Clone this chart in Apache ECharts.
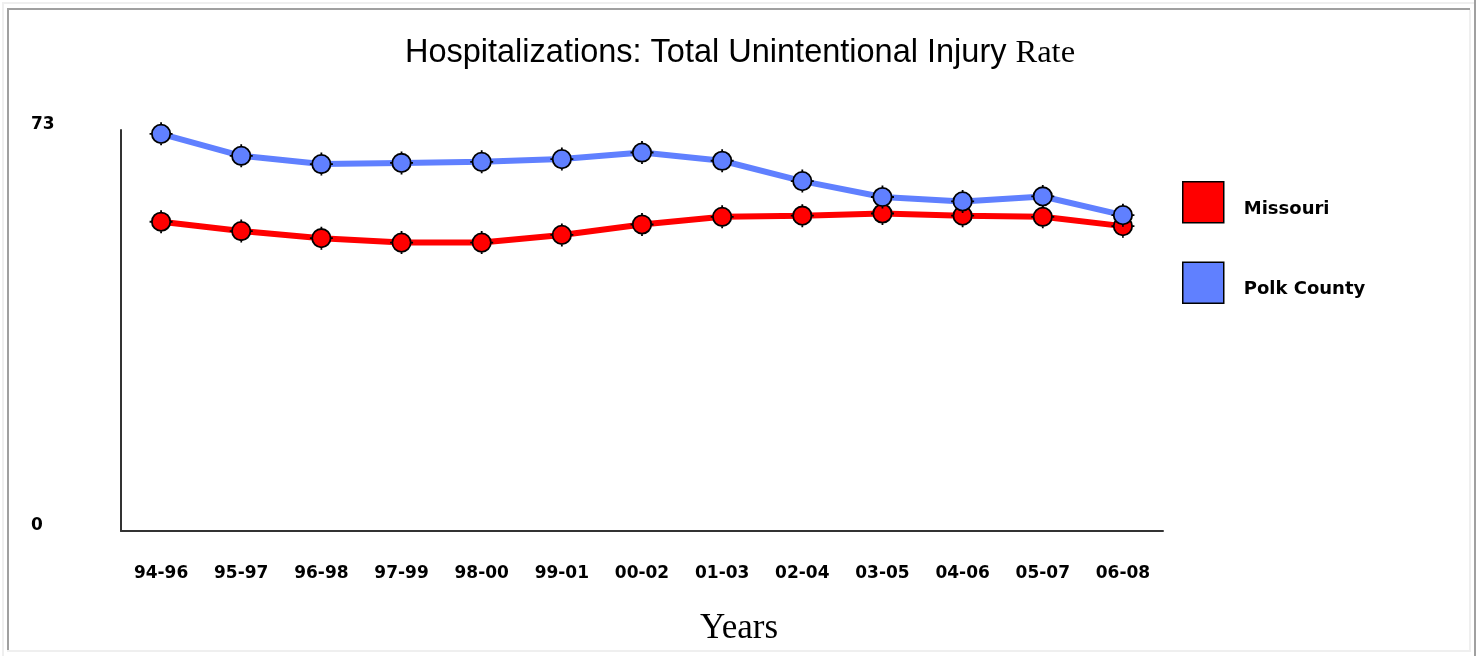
<!DOCTYPE html>
<html>
<head>
<meta charset="utf-8">
<script src="https://cdn.jsdelivr.net/npm/echarts@6/dist/echarts.min.js"></script>
<style>
html,body{margin:0;padding:0;background:#fff;}
#chart{width:1481px;height:656px;}
</style>
</head>
<body>
<div id="chart"></div>
<script>
const categories = ['94-96','95-97','96-98','97-99','98-00','99-01','00-02','01-03','02-04','03-05','04-06','05-07','06-08'];
const missouri = [56.3, 54.6, 53.3, 52.5, 52.5, 53.9, 55.8, 57.2, 57.4, 57.8, 57.4, 57.2, 55.5];
const polkCounty = [72.3, 68.3, 66.8, 67.0, 67.2, 67.7, 68.9, 67.4, 63.7, 60.8, 60.0, 60.9, 57.5];
const yTicks = [0, 73];

const markerPath = 'path://M10 0 L10 2.5 M10 17.5 L10 20 M0 10 L2.5 10 M17.5 10 L20 10 M10 2 A8 8 0 1 1 9.99 2 Z';
const labelFont = '"DejaVu Sans", sans-serif';

const chart = echarts.init(document.getElementById('chart'), null, {renderer: 'canvas'});

function seriesOf(name, data, color) {
  return {
    name: name,
    type: 'line',
    data: data,
    symbol: markerPath,
    symbolSize: 23,
    showAllSymbol: true,
    lineStyle: {color: color, width: 6},
    itemStyle: {color: color, borderColor: '#000', borderWidth: 1.8},
    emphasis: {disabled: true},
    animation: false
  };
}

chart.setOption({
  animation: false,
  backgroundColor: '#fff',
  title: [
    {
      text: '{a|Hospitalizations: Total Unintentional Injury }{b|Rate}',
      left: 735,
      textAlign: 'center',
      top: 32,
      textStyle: {
        fontWeight: 'normal',
        rich: {
          a: {fontFamily: '"Liberation Sans", Arial, sans-serif', fontSize: 32.5, fontWeight: 'normal', color: '#000'},
          b: {fontFamily: '"Liberation Serif", serif', fontSize: 32.5, fontWeight: 'normal', color: '#000'}
        }
      }
    },
    {
      text: 'Years',
      left: 734,
      textAlign: 'center',
      top: 606,
      textStyle: {fontFamily: '"Liberation Serif", serif', fontSize: 35, fontWeight: 'normal', color: '#000'}
    }
  ],
  legend: {
    orient: 'vertical',
    left: 1177,
    top: 176,
    itemWidth: 41,
    itemHeight: 41,
    itemGap: 38,
    icon: 'rect',
    itemStyle: {borderColor: '#000', borderWidth: 1.5},
    formatter: '{t|{name}}',
    textStyle: {
      fontFamily: labelFont, fontWeight: 'bold', fontSize: 18, color: '#000', padding: [0, 0, 0, 15],
      rich: {t: {fontFamily: labelFont, fontWeight: 'bold', fontSize: 18, color: '#000', padding: [14, 0, 0, 0]}}
    },
    data: ['Missouri', 'Polk County'],
    selectedMode: false
  },
  grid: {left: 121, right: 318, top: 130, bottom: 125},
  xAxis: {
    type: 'category',
    data: categories,
    boundaryGap: true,
    axisLine: {lineStyle: {color: '#333', width: 2}},
    axisTick: {show: false},
    axisLabel: {fontFamily: labelFont, fontWeight: 'bold', fontSize: 17, color: '#000', margin: 34, interval: 0}
  },
  yAxis: {
    type: 'value',
    min: yTicks[0],
    max: yTicks[1],
    interval: yTicks[1] - yTicks[0],
    splitLine: {show: false},
    axisTick: {show: false},
    axisLine: {show: true, lineStyle: {color: '#333', width: 2}},
    axisLabel: {
      align: 'left', margin: 90, verticalAlign: 'middle',
      formatter: '{v|{value}}',
      rich: {v: {fontFamily: labelFont, fontWeight: 'bold', fontSize: 17, color: '#000', padding: [0, 0, 11, 0]}}
    }
  },
  series: [
    seriesOf('Missouri', missouri, '#ff0000'),
    seriesOf('Polk County', polkCounty, '#6080ff')
  ],
  graphic: [
    {type: 'rect', shape: {x: 2, y: 2, width: 1472, height: 2}, style: {fill: '#efefef'}, silent: true},
    {type: 'rect', shape: {x: 2, y: 2, width: 2, height: 654}, style: {fill: '#efefef'}, silent: true},
    {type: 'rect', shape: {x: 7, y: 8, width: 1463, height: 2}, style: {fill: '#a0a0a0'}, silent: true},
    {type: 'rect', shape: {x: 7, y: 8, width: 2, height: 643}, style: {fill: '#a0a0a0'}, silent: true},
    {type: 'rect', shape: {x: 1469, y: 10, width: 2, height: 641}, style: {fill: '#efefef'}, silent: true},
    {type: 'rect', shape: {x: 7, y: 650, width: 1464, height: 2}, style: {fill: '#efefef'}, silent: true},
    {type: 'rect', shape: {x: 1474, y: 0, width: 2, height: 656}, style: {fill: '#a0a0a0'}, silent: true}
  ]
});
</script>
</body>
</html>
